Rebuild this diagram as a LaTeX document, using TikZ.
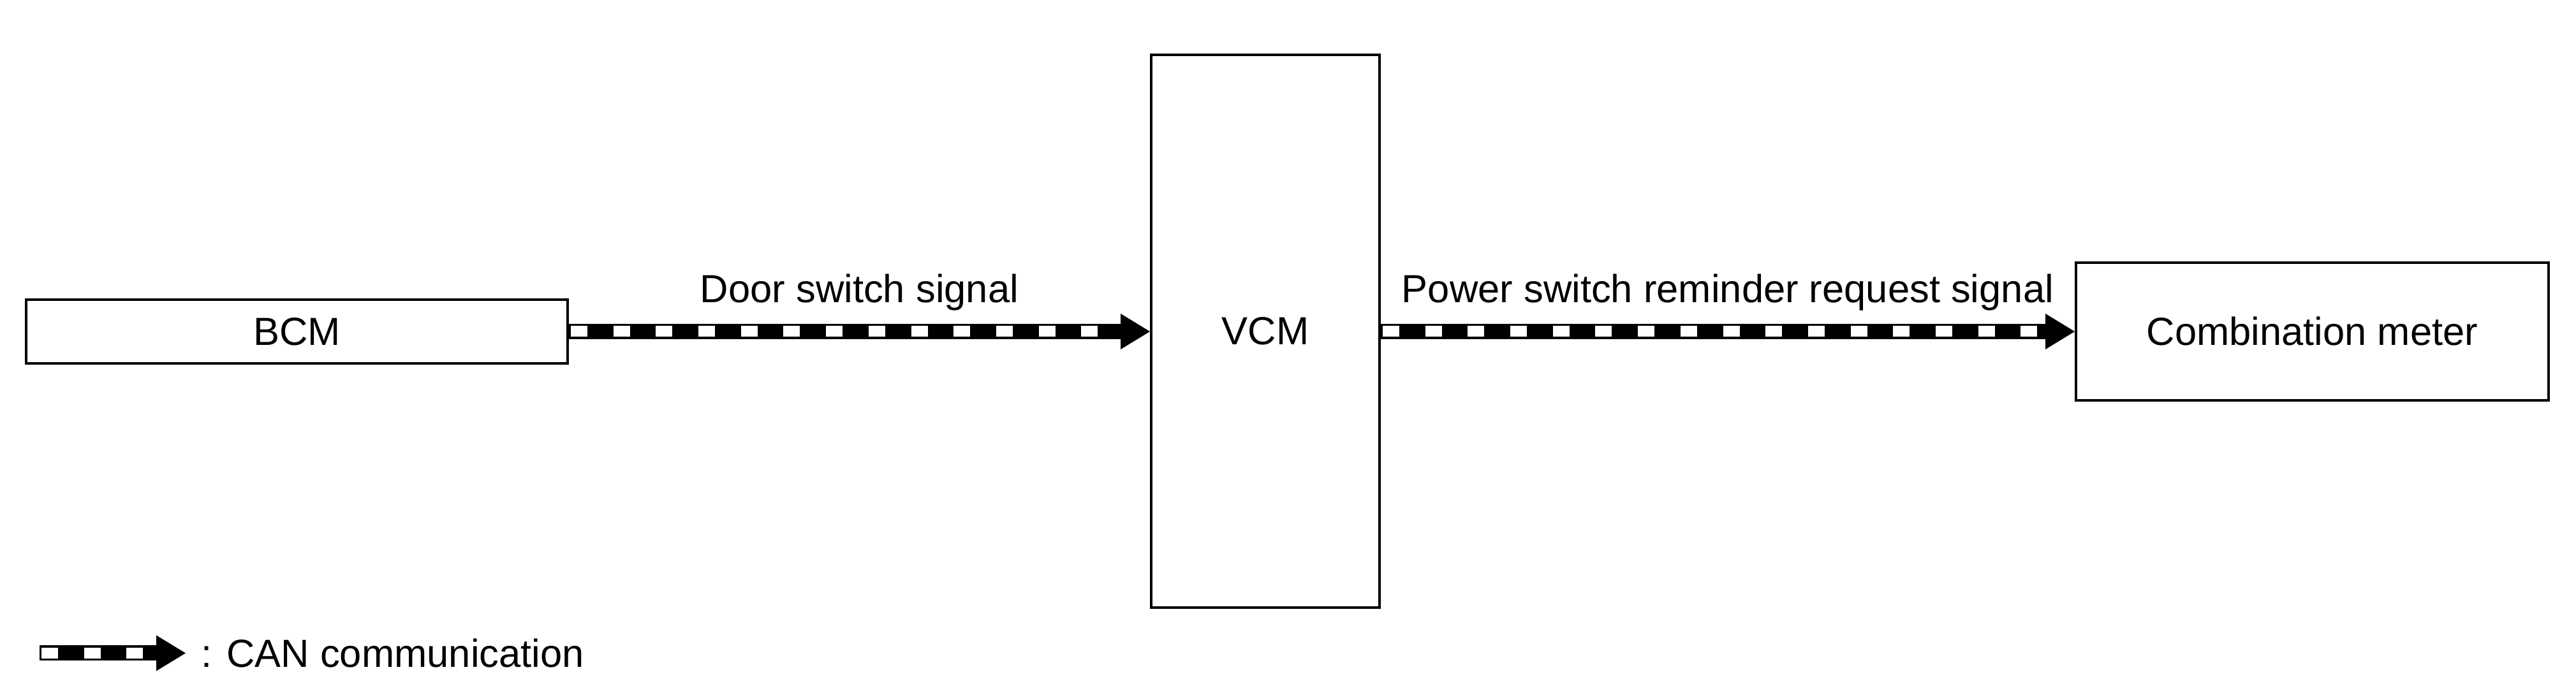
\documentclass[tikz,border=0pt]{standalone}
\usepackage{fontspec}
\setmainfont{Liberation Sans}
\usetikzlibrary{positioning, arrows.meta}

\begin{document}
\begin{tikzpicture}
[font=\fontsize{8.75}{10}\selectfont,
 block/.style={draw, line width=0.55pt, inner sep=0pt},
 can/.style={line width=0.12cm,
   -{Triangle[length=0.23cm,width=0.28cm,line width=0pt 0]},
   postaction={draw=white, -, line width=0.085cm,
     dash pattern=on 0.13cm off 0.2035cm,
     shorten <=0.015cm, shorten >=0.23cm}},
 sig/.style={anchor=base, inner sep=0pt, yshift=0.225cm}]
\useasboundingbox (0,0) rectangle (20.195,-5.435);

\node[block, minimum width=4.245cm, minimum height=0.5cm] (bcm) at (2.3275,-2.6) {BCM};
\node[block, minimum width=1.79cm, minimum height=4.335cm] (vcm) at (9.92,-2.5975) {VCM};
\node[block, minimum width=3.705cm, minimum height=1.08cm] (meter) at (18.1275,-2.6) {Combination meter};

\draw[can] (bcm.east) -- (bcm.east -| vcm.west)
	node[sig, midway] (doorsig) {Door switch signal};
\draw[can] (meter.west -| vcm.east) -- (meter.west)
	node[sig, midway] (remsig) {Power switch reminder request signal};

\coordinate (canA) at (0.31,-5.1225);
\coordinate (canB) at (1.455,-5.1225);
\draw[can] (canA) -- (canB);
\node[anchor=base west, inner sep=0pt] (canlbl) at (1.57,-5.235) {: CAN communication};

\end{tikzpicture}
\end{document}
